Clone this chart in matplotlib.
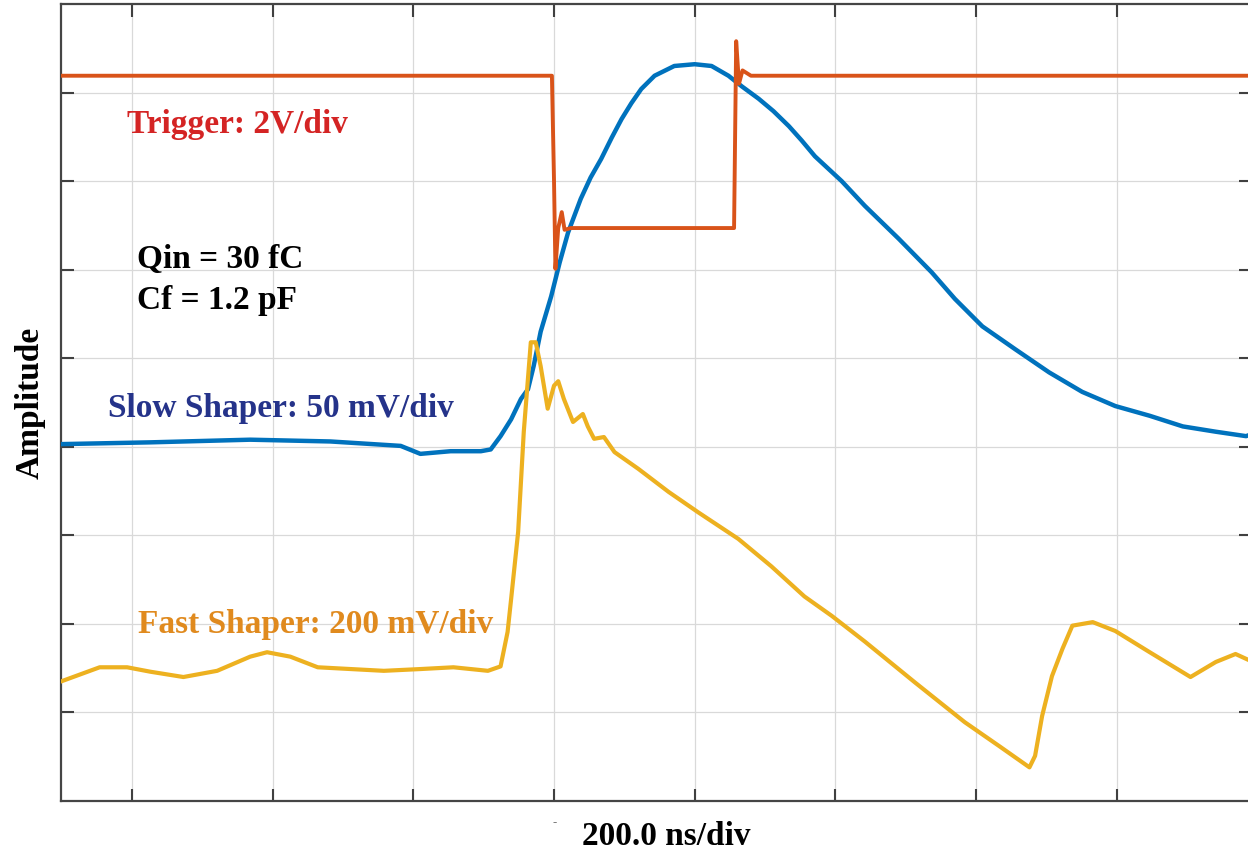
import matplotlib.pyplot as plt
import numpy as np

# time axis in ns (200 ns/div), amplitude in screen divisions (0..9)
trig_t = [-701, -3, 0, 2, 6, 11, 15, 24, 256, 259, 263, 268, 280, 991]
trig_y = [8.19, 8.19, 7.0, 6.01, 6.47, 6.65, 6.45, 6.47, 6.47, 8.58, 8.10, 8.25, 8.19, 8.19]

slow_t = [-701, -574, -432, -318, -218, -190, -147, -104, -90, -76, -61, -47, -37, -29,
          -19, -4, 8, 20, 38, 52, 67, 82, 96, 110, 124, 143, 171, 200, 224, 248, 267, 291,
          312, 334, 352, 371, 409, 442, 490, 537, 570, 609, 656, 704, 751, 798, 847, 894,
          941, 984, 991]
slow_y = [4.03, 4.05, 4.08, 4.06, 4.01, 3.92, 3.95, 3.95, 3.97, 4.12, 4.31, 4.54, 4.65, 4.91,
          5.30, 5.70, 6.08, 6.42, 6.80, 7.04, 7.25, 7.49, 7.70, 7.88, 8.04, 8.19, 8.30, 8.32, 8.30,
          8.19, 8.07, 7.93, 7.79, 7.62, 7.46, 7.28, 7.00, 6.72, 6.35, 5.97, 5.67, 5.36, 5.10,
          4.84, 4.62, 4.46, 4.35, 4.23, 4.17, 4.12, 4.14]

fast_t = [-701, -646, -607, -574, -527, -479, -432, -408, -375, -336, -289, -242, -190, -143,
          -94, -76, -66, -61, -51, -43, -33, -26, -19, -9, 0, 6, 14, 27, 41, 48, 57, 71, 86,
          120, 163, 205, 262, 309, 356, 395, 442, 513, 584, 633, 676, 684, 694, 708, 723,
          737, 766, 798, 847, 905, 941, 969, 991]
fast_y = [1.35, 1.51, 1.51, 1.46, 1.40, 1.47, 1.63, 1.68, 1.63, 1.51, 1.49, 1.47, 1.49, 1.51,
          1.47, 1.52, 1.91, 2.28, 3.04, 4.17, 5.18, 5.18, 4.91, 4.43, 4.69, 4.74, 4.54, 4.28, 4.37,
          4.23, 4.09, 4.11, 3.94, 3.75, 3.49, 3.26, 2.96, 2.65, 2.31, 2.09, 1.80, 1.34, 0.89, 0.62,
          0.38, 0.51, 0.96, 1.41, 1.72, 1.98, 2.02, 1.92, 1.68, 1.40, 1.57, 1.66, 1.58]

xticks = [-600, -400, -200, 0, 200, 400, 600, 800]
yticks = [1, 2, 3, 4, 5, 6, 7, 8]

plt.rcParams['font.family'] = ['Liberation Serif', 'DejaVu Serif']
plt.rcParams['font.weight'] = 'bold'

fig = plt.figure(figsize=(12.48, 8.54), dpi=100)
ax = fig.add_axes([61/1248, 52/854, 1190/1248, 797/854])

ax.plot(slow_t, slow_y, color='#0072BD', lw=3.2, zorder=3, solid_joinstyle='round')
ax.plot(fast_t, fast_y, color='#EDB120', lw=3.0, zorder=3, solid_joinstyle='round')
ax.plot(trig_t, trig_y, color='#D95319', lw=2.8, zorder=4)

ax.set_xlim(-701, 991)
ax.set_ylim(0, 9)
ax.set_xticks(xticks)
ax.set_yticks(yticks)
ax.set_xticklabels([])
ax.set_yticklabels([])
ax.grid(True, color='#D9D9D9', lw=0.9)
ax.set_axisbelow(True)
ax.tick_params(direction='in', length=9, width=1.5, color='#404040',
               top=True, right=True, bottom=True, left=True)
for s in ax.spines.values():
    s.set_color('#454545')
    s.set_linewidth(1.6)
ax.spines['right'].set_visible(False)

fs = 24
ax.text(-607, 7.55, 'Trigger: 2V/div', color='#D42424', fontsize=fs, fontweight='bold')
ax.text(-593, 6.03, 'Qin = 30 fC', color='black', fontsize=fs, fontweight='bold')
ax.text(-593, 5.57, 'Cf = 1.2 pF', color='black', fontsize=fs, fontweight='bold')
ax.text(-634, 4.35, 'Slow Shaper: 50 mV/div', color='#25338A', fontsize=fs, fontweight='bold')
ax.text(-592, 1.91, 'Fast Shaper: 200 mV/div', color='#E08A1E', fontsize=fs, fontweight='bold')

fig.text(30/1248, 1 - 403/854, 'Amplitude', rotation=90, ha='center', va='center',
         fontsize=fs, fontweight='bold')
fig.text(666/1248, 1 - 837/854, '200.0 ns/div', ha='center', va='center',
         fontsize=fs, fontweight='bold')
fig.text(555/1248, 1 - 822/854, '-', ha='center', va='center', fontsize=9, color='#555555')

plt.savefig('out.png', dpi=100)
plt.close()
